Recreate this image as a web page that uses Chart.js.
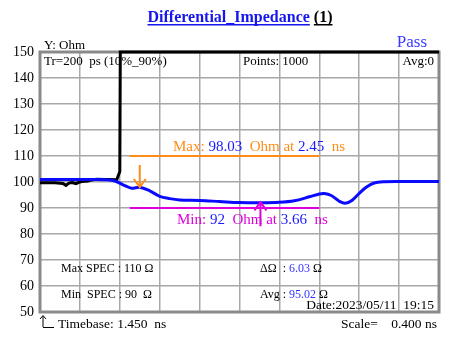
<!DOCTYPE html>
<html lang="en">
<head>
  <meta charset="UTF-8">
  <title>Differential_Impedance (1)</title>
  <script src="https://cdn.jsdelivr.net/npm/chart.js"></script>
  <style>
    body { margin: 0; background: #ffffff; }
    #wrap { width: 462px; height: 362px; position: relative; }
  </style>
</head>
<body>
  <div id="wrap"><canvas id="tdr"></canvas></div>

  <script>
    // time axis in ns (timebase 1.450, 0.400 ns/div)
    const xMin = 1.45, xMax = 5.45, xStep = 0.4;
    const yTicks = [50, 60, 70, 80, 90, 100, 110, 120, 130, 140, 150];

    // measured impedance trace (blue)
    const blueX = [1.45, 1.80, 2.00, 2.10, 2.20, 2.30, 2.37, 2.45, 2.55, 2.65, 2.75, 2.85, 3.05, 3.25, 3.45, 3.66, 3.85, 4.00, 4.15, 4.25, 4.30, 4.37, 4.45, 4.51, 4.58, 4.65, 4.72, 4.80, 4.90, 5.05, 5.45];
    const blueY = [101.0, 101.0, 101.0, 100.9, 100.4, 98.6, 97.6, 98.0, 96.6, 94.5, 93.6, 93.1, 92.9, 92.5, 92.1, 92.0, 92.2, 92.8, 94.3, 95.4, 95.6, 94.8, 92.6, 91.8, 93.0, 95.6, 98.0, 99.6, 100.1, 100.2, 100.2];

    // reference step trace (black)
    const blackX = [1.45, 1.60, 1.68, 1.71, 1.74, 1.77, 1.81, 1.84, 1.87, 1.93, 1.97, 2.02, 2.10, 2.15, 2.22, 2.25, 2.255, 5.45];
    const blackY = [99.7, 99.7, 99.4, 98.7, 99.6, 99.8, 99.4, 99.9, 100.2, 100.4, 100.8, 101.1, 101.0, 101.0, 100.9, 104, 150, 150];

    // spec window
    const specX = [2.35, 4.25];
    const maxSpec = 110, minSpec = 90;
    const maxAt = 2.45, maxVal = 98.03;
    const minAt = 3.66, minVal = 92;

    const pts = (xs, ys) => xs.map((x, i) => ({ x: x, y: ys[i] }));

    const serif = '"Liberation Serif", "Times New Roman", serif';
    const BLUE = '#1a1aff';
    const ORANGE = '#ff8c1a';
    const MAGENTA = '#dd00dd';

    function txt(c, s, x, y, size, color, align, bold) {
      c.font = (bold ? 'bold ' : '') + size + 'px ' + serif;
      c.fillStyle = color;
      c.textAlign = align || 'left';
      c.textBaseline = 'alphabetic';
      c.fillText(s, x, y);
      return c.measureText(s).width;
    }

    // draw a run of [text, color] pieces starting at x
    function runs(c, parts, x, y, size) {
      c.font = size + 'px ' + serif;
      let cx = x;
      parts.forEach(p => {
        cx += txt(c, p[0], cx, y, size, p[1]);
      });
      return cx;
    }

    function arrow(c, x, y0, y1, color) {
      const dir = y1 > y0 ? 1 : -1;
      c.save();
      c.strokeStyle = color;
      c.lineWidth = 2;
      c.beginPath();
      c.moveTo(x, y0);
      c.lineTo(x, y1);
      c.moveTo(x - 6, y1 - dir * 8);
      c.lineTo(x, y1);
      c.lineTo(x + 6, y1 - dir * 8);
      c.stroke();
      c.restore();
    }

    const framePlugin = {
      id: 'frame',
      beforeDatasetsDraw(chart) {
        const c = chart.ctx, a = chart.chartArea;
        c.save();
        c.strokeStyle = '#8a8a8a';
        c.lineWidth = 3;
        c.strokeRect(a.left, a.top, a.right - a.left, a.bottom - a.top);
        c.restore();
      },
      afterDatasetsDraw(chart) {
        const c = chart.ctx, a = chart.chartArea;
        const xs = chart.scales.x, ys = chart.scales.y;
        c.save();

        // title
        const t1 = 'Differential_Impedance';
        const t2 = ' (1)';
        c.font = 'bold 16px ' + serif;
        const w1 = c.measureText(t1).width, w2 = c.measureText(t2).width;
        const tx = 240 - (w1 + w2) / 2;
        txt(c, t1, tx, 22, 16, '#1515ee', 'left', true);
        txt(c, t2, tx + w1, 22, 16, '#000000', 'left', true);
        c.fillStyle = '#1515ee';
        c.fillRect(tx, 24, w1, 1.5);
        c.fillStyle = '#000000';
        c.fillRect(tx + w1 + 4, 24, w2 - 4, 1.5);

        txt(c, 'Y: Ohm', 44, 49, 13, '#000000');
        txt(c, 'Pass', 427, 47, 17, '#3a3aff', 'right');

        txt(c, 'Tr=200  ps (10%_90%)', 44, 65, 13, '#000000');
        txt(c, 'Points: 1000', 243, 65, 13, '#000000');
        txt(c, 'Avg:0', 434, 65, 13, '#000000', 'right');

        // max / min markers
        arrow(c, xs.getPixelForValue(maxAt), 165, 187, ORANGE);
        arrow(c, xs.getPixelForValue(minAt), ys.getPixelForValue(83), ys.getPixelForValue(92.2), MAGENTA);

        runs(c, [['Max: ', ORANGE], [maxVal.toFixed(2), BLUE], ['  Ohm at ', ORANGE], [maxAt.toFixed(2), BLUE], ['  ns', ORANGE]], 173, 151, 15);
        runs(c, [['Min: ', MAGENTA], [String(minVal), BLUE], ['  Ohm at ', MAGENTA], [minAt.toFixed(2), BLUE], ['  ns', MAGENTA]], 177, 224, 15);

        // spec / stats block
        runs(c, [['Max SPEC : ', '#000000'], [maxSpec + ' \u03A9', '#000000']], 61, 272, 12);
        runs(c, [['Min  SPEC : ', '#000000'], [minSpec + '  \u03A9', '#000000']], 61, 298, 12);
        runs(c, [['\u0394\u03A9  : ', '#000000'], ['6.03', '#3333ff'], [' \u03A9', '#000000']], 260, 272, 12);
        runs(c, [['Avg : ', '#000000'], ['95.02', '#3333ff'], [' \u03A9', '#000000']], 260, 298, 12);
        txt(c, 'Date:2023/05/11  19:15', 434, 309, 13.5, '#000000', 'right');

        // footer
        c.strokeStyle = '#000000';
        c.lineWidth = 1;
        c.beginPath();
        c.moveTo(43, 327); c.lineTo(43, 316);
        c.moveTo(40, 319); c.lineTo(43, 315.5); c.lineTo(46, 319);
        c.moveTo(43, 327.5); c.lineTo(54, 327.5);
        c.stroke();
        txt(c, 'Timebase: 1.450  ns', 58, 328, 13.5, '#000000');
        txt(c, 'Scale=', 341, 328, 13.5, '#000000');
        txt(c, '0.400 ns', 437, 328, 13.5, '#000000', 'right');

        c.restore();
      }
    };

    new Chart(document.getElementById('tdr'), {
      type: 'line',
      data: {
        datasets: [
          {
            data: pts(blueX, blueY),
            borderColor: '#0a0aff',
            borderWidth: 3,
            pointRadius: 0,
            tension: 0.35
          },
          {
            data: pts(blackX, blackY),
            borderColor: '#000000',
            borderWidth: 3,
            pointRadius: 0,
            tension: 0,
            clip: 4
          },
          {
            data: pts(specX, [maxSpec, maxSpec]),
            borderColor: ORANGE,
            borderWidth: 2,
            pointRadius: 0
          },
          {
            data: pts(specX, [minSpec, minSpec]),
            borderColor: MAGENTA,
            borderWidth: 2,
            pointRadius: 0
          }
        ]
      },
      options: {
        responsive: true,
        maintainAspectRatio: false,
        animation: false,
        layout: { padding: { top: 52, right: 23, bottom: 50, left: 0 } },
        plugins: {
          legend: { display: false },
          tooltip: { enabled: false }
        },
        scales: {
          x: {
            type: 'linear',
            min: xMin,
            max: xMax,
            ticks: { display: false, stepSize: xStep },
            afterBuildTicks(axis) {
              axis.ticks = [];
              for (let i = 0; i <= 10; i++) axis.ticks.push({ value: xMin + i * xStep });
            },
            grid: { color: '#a8a8a8', lineWidth: 1.5, drawTicks: false },
            border: { display: false },
            afterFit(axis) { axis.height = 0; }
          },
          y: {
            min: 50,
            max: 150,
            afterBuildTicks(axis) {
              axis.ticks = yTicks.map(v => ({ value: v }));
            },
            ticks: {
              color: '#000000',
              padding: 6,
              font: { family: serif, size: 14 }
            },
            grid: { color: '#a8a8a8', lineWidth: 1.5, drawTicks: false },
            border: { display: false },
            afterFit(axis) { axis.width = 40; }
          }
        }
      },
      plugins: [framePlugin]
    });
  </script>
</body>
</html>
